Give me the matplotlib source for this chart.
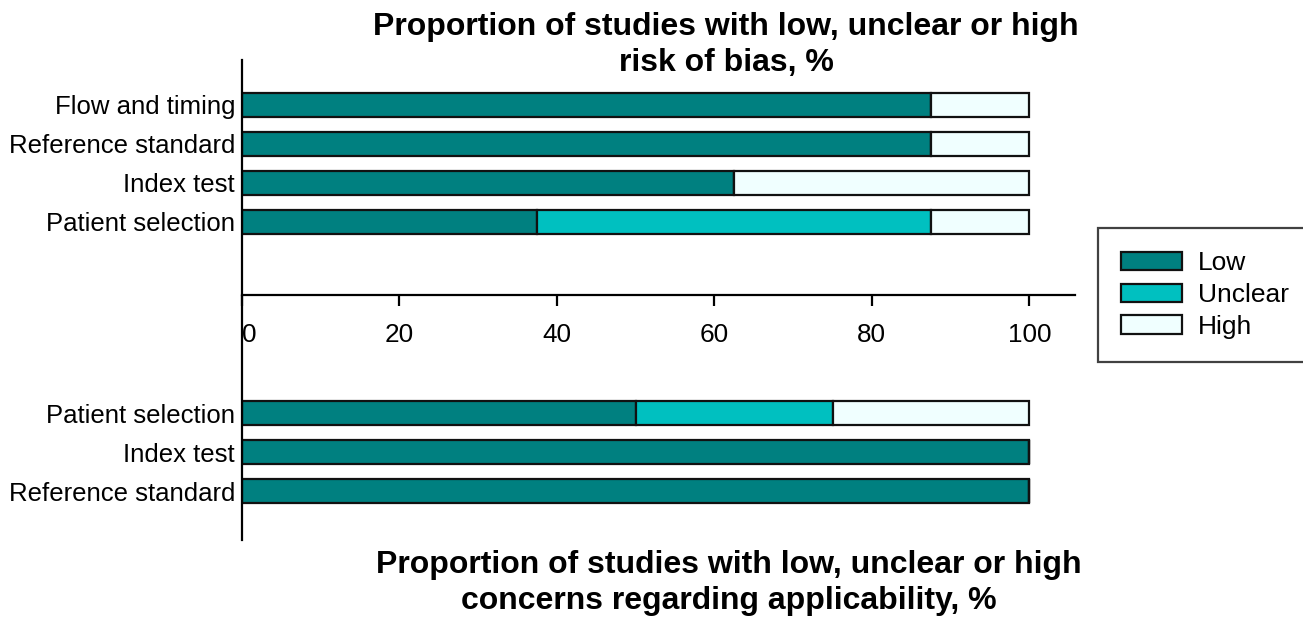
import matplotlib
matplotlib.use("Agg")
import matplotlib.pyplot as plt
import numpy as np
from matplotlib.patches import Patch

plt.rcParams['font.family'] = ['Liberation Sans', 'DejaVu Sans']

# risk of bias (top group, listed top to bottom)
bias_domains = ["Flow and timing", "Reference standard", "Index test", "Patient selection"]
bias_low = [87.5, 87.5, 62.5, 37.5]
bias_unclear = [0, 0, 0, 50]
bias_high = [12.5, 12.5, 37.5, 12.5]

# applicability concerns (bottom group, listed top to bottom)
appl_domains = ["Patient selection", "Index test", "Reference standard"]
appl_low = [50, 100, 100]
appl_unclear = [25, 0, 0]
appl_high = [25, 0, 0]

x_ticks = [0, 20, 40, 60, 80, 100]
legend_labels = ["Low", "Unclear", "High"]
colors = ["#008080", "#00c0c0", "#f0ffff"]

title_top = "Proportion of studies with low, unclear or high\nrisk of bias, %"
title_bottom = "Proportion of studies with low, unclear or high\nconcerns regarding applicability, %"

# row positions
top_pos = np.arange(len(bias_domains))
axis_row = 4.87
bot_pos = 7.9 + np.arange(len(appl_domains))

fig = plt.figure(figsize=(13.03, 6.19), dpi=100)
ax = fig.add_axes([242 / 1303, 1 - 540 / 619, (1075 - 242) / 1303, 480 / 619])

def stack(pos, series):
    left = np.zeros(len(pos))
    for vals, c in zip(series, colors):
        vals = np.asarray(vals, dtype=float)
        ax.barh(pos, vals, left=left, height=0.62, color=c,
                edgecolor="#111111", linewidth=1.6)
        left += vals

stack(top_pos, [bias_low, bias_unclear, bias_high])
stack(bot_pos, [appl_low, appl_unclear, appl_high])

ax.set_xlim(0, 105.8)
ax.set_ylim(11.15, -1.15)

ax.set_yticks(list(top_pos) + list(bot_pos))
ax.set_yticklabels(bias_domains + appl_domains, fontsize=18.5)
ax.tick_params(axis='y', length=0, pad=5)

ax.spines['top'].set_visible(False)
ax.spines['right'].set_visible(False)
ax.spines['bottom'].set_position(('data', axis_row))
ax.spines['bottom'].set_linewidth(1.6)
ax.spines['left'].set_linewidth(1.6)

ax.set_xticks(x_ticks)
ax.set_xticklabels([str(t) for t in x_ticks], fontsize=18.8)
ax.tick_params(axis='x', direction='out', length=8, width=1.6, pad=12)
ax.get_xticklabels()[0].set_horizontalalignment('left')

fig.text(726 / 1303, 1 - 45 / 619, title_top, ha='center', va='center',
         fontsize=23, fontweight='bold', linespacing=1.28)
fig.text(729 / 1303, 1 - 583 / 619, title_bottom, ha='center', va='center',
         fontsize=23, fontweight='bold', linespacing=1.28)

handles = [Patch(facecolor=c, edgecolor="#111111", linewidth=1.6) for c in colors]
leg = fig.legend(handles, legend_labels, loc='center left',
                 bbox_to_anchor=(1098 / 1303, 1 - 295 / 619),
                 fontsize=19, frameon=True, fancybox=False,
                 handlelength=2.3, handleheight=0.7, labelspacing=0.3,
                 borderpad=0.88, handletextpad=0.6, borderaxespad=0)
leg.get_frame().set_edgecolor("#111111")
leg.get_frame().set_linewidth(1.6)

fig.savefig("out.png", dpi=100)
